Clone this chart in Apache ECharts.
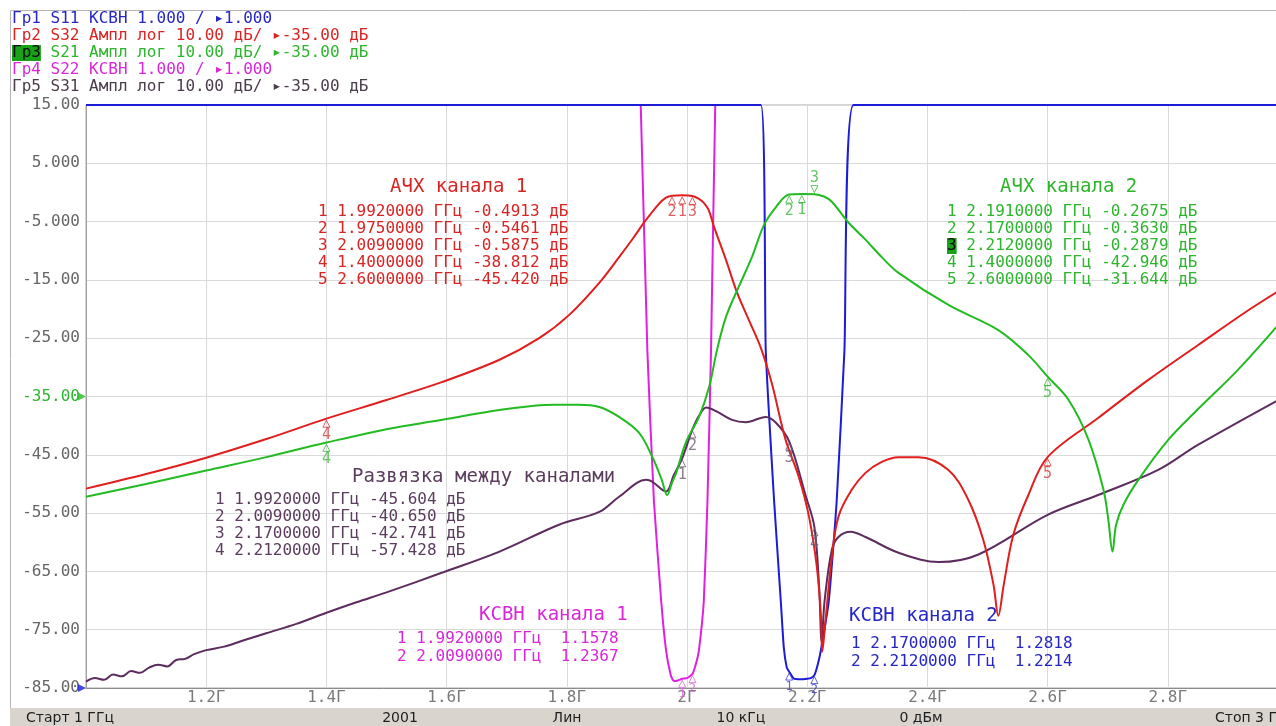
<!DOCTYPE html>
<html><head><meta charset="utf-8">
<script src="https://cdn.jsdelivr.net/npm/echarts@6/dist/echarts.min.js"></script>
<style>html,body{margin:0;padding:0;background:#fff;overflow:hidden}#c{width:1276px;height:726px}</style>
</head><body><div id="c"></div><script>
// ---------- data ----------
const xTickLabels = ['', '1.2Г', '1.4Г', '1.6Г', '1.8Г', '2Г', '2.2Г', '2.4Г', '2.6Г', '2.8Г', ''];
const yTickLabels = ['-85.00','-75.00','-65.00','-55.00','-45.00','-35.00','-25.00','-15.00','-5.000','5.000','15.00'];
const refLevelDb = -35;
const refLevelVswr = 1.0;

// S32 (АЧХ канала 1), dB
const s32 = [[1.000,-50.8],[1.100,-48.3],[1.200,-45.5],[1.300,-42.3],[1.400,-38.8],[1.500,-35.6],[1.593,-32.5],[1.688,-28.7],[1.754,-25.0],[1.804,-21.0],[1.854,-15.5],[1.887,-11.1],[1.910,-7.9],[1.929,-5.1],[1.953,-2.0],[1.965,-0.9],[1.975,-0.55],[1.992,-0.49],[2.009,-0.59],[2.020,-1.1],[2.028,-1.8],[2.036,-3.0],[2.045,-5.9],[2.065,-11.6],[2.083,-17.1],[2.103,-21.9],[2.123,-26.7],[2.141,-32.7],[2.164,-42.4],[2.186,-48.8],[2.203,-55.6],[2.216,-64.2],[2.223,-72.8],[2.225,-78.8],[2.231,-72.8],[2.241,-62.5],[2.252,-55.6],[2.274,-51.0],[2.297,-48.1],[2.324,-46.2],[2.352,-45.4],[2.385,-45.4],[2.435,-47.6],[2.468,-52.7],[2.493,-59.6],[2.510,-67.3],[2.518,-72.6],[2.527,-67.3],[2.543,-58.7],[2.568,-51.9],[2.600,-45.4],[2.684,-38.7],[2.767,-32.2],[2.850,-26.2],[2.934,-20.2],[3.000,-15.9]];
// S21 (АЧХ канала 2), dB
const s21 = [[1.000,-52.2],[1.100,-50.0],[1.200,-47.7],[1.300,-45.4],[1.400,-42.9],[1.500,-40.6],[1.593,-39.0],[1.688,-37.3],[1.779,-36.4],[1.820,-36.4],[1.854,-36.8],[1.887,-38.5],[1.920,-41.2],[1.942,-45.3],[1.958,-49.3],[1.967,-51.9],[1.975,-49.8],[1.982,-48.1],[1.998,-42.9],[2.020,-38.5],[2.037,-33.3],[2.050,-27.0],[2.065,-21.3],[2.086,-16.2],[2.108,-11.1],[2.128,-5.6],[2.148,-2.5],[2.170,-0.36],[2.191,-0.27],[2.212,-0.29],[2.228,-0.7],[2.241,-1.6],[2.269,-5.2],[2.297,-8.1],[2.324,-11.1],[2.352,-13.8],[2.435,-19.3],[2.518,-23.6],[2.568,-27.9],[2.600,-31.6],[2.635,-35.6],[2.668,-42.4],[2.693,-51.0],[2.701,-56.1],[2.708,-61.6],[2.714,-57.0],[2.726,-53.6],[2.751,-49.3],[2.801,-42.4],[2.850,-37.2],[2.917,-30.4],[3.000,-20.8]];
// S31 (Развязка между каналами), dB
const s31 = [[1.000,-83.9],[1.015,-83.3],[1.030,-83.6],[1.045,-82.7],[1.060,-83.0],[1.075,-82.1],[1.090,-82.4],[1.105,-81.5],[1.120,-81.0],[1.135,-81.3],[1.150,-80.2],[1.165,-80.0],[1.180,-79.2],[1.200,-78.5],[1.230,-77.9],[1.260,-76.9],[1.300,-75.6],[1.350,-74.0],[1.400,-72.1],[1.450,-70.3],[1.500,-68.6],[1.593,-65.2],[1.688,-61.6],[1.787,-57.0],[1.854,-54.8],[1.887,-52.2],[1.932,-49.3],[1.942,-49.6],[1.965,-51.3],[1.978,-48.5],[1.992,-45.6],[2.009,-40.65],[2.020,-38.3],[2.032,-36.9],[2.050,-37.6],[2.075,-39.0],[2.098,-39.4],[2.131,-38.5],[2.148,-39.5],[2.170,-42.7],[2.198,-52.2],[2.212,-57.4],[2.220,-68.0],[2.224,-77.0],[2.229,-70.0],[2.241,-61.3],[2.252,-59.1],[2.272,-58.2],[2.297,-59.1],[2.352,-61.8],[2.419,-63.4],[2.485,-62.1],[2.600,-55.3],[2.684,-51.9],[2.784,-47.6],[2.850,-43.3],[3.000,-34.7]];
// S11 (КСВН канала 2), VSWR (pinned at top of screen = 11)
const s11 = [[1.000,11],[2.123,11],[2.131,6.8],[2.145,4.2],[2.156,2.5],[2.161,1.7],[2.166,1.35],[2.170,1.28],[2.178,1.16],[2.190,1.15],[2.200,1.16],[2.206,1.17],[2.212,1.22],[2.218,1.42],[2.223,1.66],[2.236,2.5],[2.249,4.2],[2.262,6.8],[2.277,11],[3.000,11]];
// S22 (КСВН канала 1), VSWR
const s22 = [[1.915,13],[1.923,11],[1.934,6.8],[1.945,4.2],[1.957,2.5],[1.965,1.66],[1.973,1.22],[1.978,1.12],[1.985,1.13],[1.992,1.16],[2.000,1.17],[2.009,1.24],[2.015,1.42],[2.020,1.66],[2.028,2.5],[2.034,4.2],[2.040,6.8],[2.047,11],[2.055,13]];

// markers [freq GHz, value]
const s32Markers = [[1.992,-0.4913],[1.975,-0.5461],[2.009,-0.5875],[1.4,-38.812],[2.6,-45.42]];
const s21Markers = [[2.191,-0.2675],[2.17,-0.3630],[2.212,-0.2879],[1.4,-42.946],[2.6,-31.644]];
const s31Markers = [[1.992,-45.604],[2.009,-40.650],[2.17,-42.741],[2.212,-57.428]];
const s22Markers = [[1.992,1.1578],[2.009,1.2367]];
const s11Markers = [[2.17,1.2818],[2.212,1.2214]];

const headerNames = ['Гр1','Гр2','Гр3','Гр4','Гр5'];
const headerParams = ['S11','S32','S21','S22','S31'];
const headerFormats = ['КСВН 1.000 / ▸1.000','Ампл лог 10.00 дБ/ ▸-35.00 дБ','Ампл лог 10.00 дБ/ ▸-35.00 дБ','КСВН 1.000 / ▸1.000','Ампл лог 10.00 дБ/ ▸-35.00 дБ'];
const statusItems = ['Старт 1 ГГц','2001','Лин','10 кГц','0 дБм','Стоп 3 ГГц'];

// ---------- styling ----------
const COL = {blue:'#1c1cd6', red:'#e01e1e', green:'#22bb22', magenta:'#e020e0', purple:'#5c2c5e'};
const TXT = {blue:'#2626c4', red:'#d92424', green:'#2db52d', magenta:'#d926d9', purple:'#5a3c5c', dark:'#4a3d4a'};
const MONO = '"DejaVu Sans Mono"';
const headerColors = [TXT.blue, TXT.red, TXT.green, TXT.magenta, TXT.dark];

function fmtVal(v){ return Math.abs(v) < 10 ? v.toFixed(4) : v.toFixed(3); }
function fmtF(f){ return f.toFixed(7); }

const graphics = [];
graphics.push({type:'rect', shape:{x:10.5,y:10.5,width:1400,height:698}, style:{fill:'none', stroke:'#b4b4b4', lineWidth:1}, z:1});
graphics.push({type:'rect', shape:{x:10,y:708,width:1300,height:18}, style:{fill:'#d9d5ce'}, z:1});
const statusX = [26, 400, 567, 741, 921, 1215];
const statusAlign = ['left','center','center','center','center','left'];
statusItems.forEach((t,i)=>graphics.push({type:'text', x:statusX[i], y:718, z:50,
  style:{text:t, fill:'#1e1e1e', font:'14px "DejaVu Sans"', align:statusAlign[i], verticalAlign:'middle'}}));

headerNames.forEach((n,i)=>{
  const active = i === 2;
  graphics.push({type:'text', x:12, y:19 + 17*i, z:50, style:{
    text: (active ? '{hl|'+n+'}' : n) + ' ' + headerParams[i] + ' ' + headerFormats[i],
    fill: headerColors[i], font:'16px '+MONO, verticalAlign:'middle',
    rich: {hl:{backgroundColor:'#17a317', fill:'#0a0a0a', font:'16px '+MONO}}
  }});
});

function addTable(title, tx, ty, rows, rx, ry, color, rowGap){
  graphics.push({type:'text', x:tx, y:ty, z:50, style:{text:title, fill:color, font:'19px '+MONO, verticalAlign:'middle'}});
  rows.forEach((r,i)=>{
    graphics.push({type:'text', x:rx, y:ry + rowGap*i, z:50, style:{
      text: r, fill:color, font:'16px '+MONO, verticalAlign:'middle',
      rich:{hl:{backgroundColor:'#17a317', fill:'#0a0a0a', font:'16px '+MONO}}
    }});
  });
}
const dbRow = (m,i)=>`${i+1} ${fmtF(m[0])} ГГц ${fmtVal(m[1])} дБ`;
addTable('АЧХ канала 1', 390, 187, s32Markers.map(dbRow), 318, 212, TXT.red, 17);
addTable('АЧХ канала 2', 1000, 187, s21Markers.map((m,i)=> i===2 ? '{hl|'+(i+1)+'}'+dbRow(m,i).slice(1) : dbRow(m,i)), 947, 212, TXT.green, 17);
addTable('Развязка между каналами', 352, 477, s31Markers.map(dbRow), 215, 500, TXT.purple, 17);
const vRow = (m,i)=>`${i+1} ${fmtF(m[0])} ГГц  ${m[1].toFixed(4)}`;
addTable('КСВН канала 1', 479, 615, s22Markers.map(vRow), 397, 639, TXT.magenta, 18);
addTable('КСВН канала 2', 849, 616, s11Markers.map(vRow), 851, 644, TXT.blue, 18);

function lineSeries(data, color, yAxisIndex, z, smooth){
  return {type:'line', data, yAxisIndex, showSymbol:false, symbol:'none', z,
    smooth: smooth, clip:true, silent:true,
    lineStyle:{color, width:2}};
}
function markerSeries(markers, color, yAxisIndex, activeIdx, fontSize){
  return {type:'scatter', yAxisIndex, z:8, clip:false, silent:true,
    symbol:'triangle', symbolSize:[7,7],
    itemStyle:{color:'rgba(0,0,0,0)', borderColor:color, borderWidth:1},
    data: markers.map((m,i)=>({
      value:[m[0], m[1]],
      symbolRotate: i===activeIdx ? 180 : 0,
      symbolOffset: i===activeIdx ? [0,-5] : [0,5],
      label:{position: i===activeIdx ? 'top' : 'bottom'}
    })),
    label:{show:true, formatter:p=>String(p.dataIndex+1), color, fontFamily:MONO, fontSize:fontSize||15, distance:0}
  };
}

const chart = echarts.init(document.getElementById('c'), null, {renderer:'canvas'});
chart.setOption({
  animation:false,
  backgroundColor:'#ffffff',
  grid:{left:86, top:105, width:1202, height:583, outerBoundsMode:'none', containLabel:false,
    show:true, borderColor:'#a8a8a8', borderWidth:1, backgroundColor:'rgba(0,0,0,0)'},
  xAxis:{type:'value', min:1, max:3, interval:0.2,
    axisLine:{show:true, onZero:false, lineStyle:{color:'#8c8c8c', width:1}},
    axisTick:{show:false},
    splitLine:{show:true, lineStyle:{color:'#dadada', width:1}},
    axisLabel:{margin:2, color:'#7a7a7a', fontFamily:MONO, fontSize:16,
      formatter:(v)=>xTickLabels[Math.round((v-1)/0.2)] || ''}},
  yAxis:[
    {type:'value', min:-85, max:15, interval:10,
      axisLine:{show:true, onZero:false, lineStyle:{color:'#a0a0a0'}},
      axisTick:{show:false},
      splitLine:{show:true, lineStyle:{color:'#dadada', width:1}},
      axisLabel:{margin:6, fontFamily:MONO, fontSize:16,
        color:(v)=> Math.round(Number(v)) === refLevelDb ? TXT.green : '#666666',
        formatter:(v)=>yTickLabels[Math.round((v+85)/10)] || ''}},
    {type:'value', min:1, max:11, interval:1, show:false, splitLine:{show:false}}
  ],
  series:[
    lineSeries(s22, COL.magenta, 1, 2, 0.15),
    lineSeries(s11, COL.blue, 1, 3, 0.15),
    lineSeries(s31, COL.purple, 0, 4, 0.35),
    lineSeries(s32, COL.red, 0, 5, 0.35),
    lineSeries(s21, COL.green, 0, 6, 0.35),
    markerSeries(s32Markers, '#d83a3a', 0, -1),
    markerSeries(s21Markers, '#3cb83c', 0, 2),
    markerSeries(s31Markers, '#6e5a70', 0, -1),
    markerSeries(s22Markers, '#d86ad8', 1, -1, 12),
    markerSeries(s11Markers, '#3a3ad0', 1, -1, 12),
    {type:'scatter', clip:false, silent:true, z:9, symbol:'triangle', symbolSize:8, symbolRotate:-90, symbolOffset:[-4,0],
      itemStyle:{color:COL.green}, data:[[1, refLevelDb]]},
    {type:'scatter', yAxisIndex:1, clip:false, silent:true, z:9, symbol:'triangle', symbolSize:8, symbolRotate:-90, symbolOffset:[-4,0],
      itemStyle:{color:COL.blue}, data:[[1, refLevelVswr]]}
  ],
  graphic:{elements:graphics}
});
</script></body></html>
